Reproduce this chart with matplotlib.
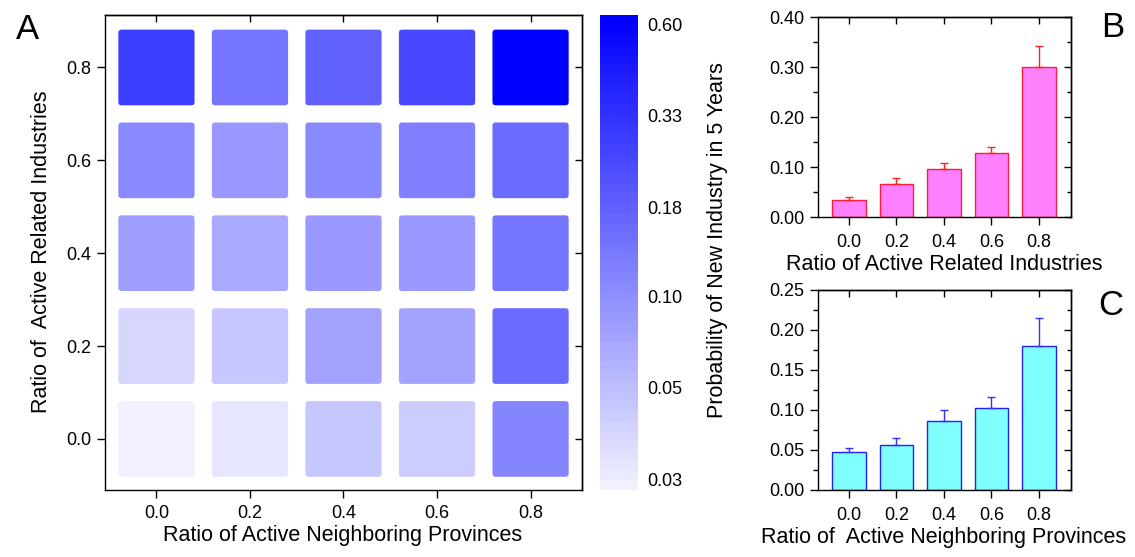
import numpy as np
import matplotlib
matplotlib.use('Agg')
import matplotlib.pyplot as plt
from matplotlib.colors import LinearSegmentedColormap, LogNorm
from matplotlib.patches import FancyBboxPatch
from matplotlib.ticker import MultipleLocator, NullLocator

plt.rcParams['font.family'] = ['Liberation Sans', 'DejaVu Sans']

# ---- data ----
ratios = [0.0, 0.2, 0.4, 0.6, 0.8]
ratio_labels = ['0.0', '0.2', '0.4', '0.6', '0.8']

# heatmap: rows = ratio of active related industries (0.0 -> 0.8)
#          cols = ratio of active neighboring provinces (0.0 -> 0.8)
heat_row_00 = [0.029, 0.034, 0.050, 0.047, 0.112]
heat_row_02 = [0.039, 0.050, 0.077, 0.077, 0.157]
heat_row_04 = [0.082, 0.070, 0.090, 0.090, 0.134]
heat_row_06 = [0.106, 0.090, 0.110, 0.121, 0.157]
heat_row_08 = [0.278, 0.134, 0.174, 0.250, 0.600]
heat = [heat_row_00, heat_row_02, heat_row_04, heat_row_06, heat_row_08]

cbar_ticks = [0.03, 0.055, 0.10, 0.18, 0.33, 0.60]
cbar_labels = ['0.03', '0.05', '0.10', '0.18', '0.33', '0.60']

# panel B: related industries
prob_related = [0.035, 0.066, 0.096, 0.128, 0.300]
err_related = [0.005, 0.013, 0.012, 0.013, 0.042]

# panel C: neighboring provinces
prob_neighbor = [0.048, 0.056, 0.086, 0.102, 0.180]
err_neighbor = [0.005, 0.0085, 0.0135, 0.014, 0.035]

W, H = 1135, 557
fig = plt.figure(figsize=(W / 100, H / 100), dpi=100)


def px_axes(x0, y0, x1, y1):
    # pixel box (top-left origin) -> figure axes
    return fig.add_axes([x0 / W, 1 - y1 / H, (x1 - x0) / W, (y1 - y0) / H])


def box_ticks(ax, xt, yt, xlabels, ylabels, ymin=None):
    ax.set_xticks(xt, xlabels)
    ax.set_yticks(yt, ylabels)
    ax.tick_params(axis='both', which='major', direction='out', length=6, width=1,
                   labelsize=13, pad=4)
    ax.tick_params(axis='both', which='minor', direction='out', length=3.5, width=1)
    for s in ax.spines.values():
        s.set_linewidth(1)
    top = ax.secondary_xaxis('top')
    top.set_xticks(xt)
    top.tick_params(axis='x', direction='in', length=5, width=1, labeltop=False)
    right = ax.secondary_yaxis('right')
    right.set_yticks(yt)
    right.tick_params(axis='y', which='major', direction='in', length=5, width=1, labelright=False)
    if ymin is not None:
        ax.yaxis.set_minor_locator(MultipleLocator(ymin))
        right.yaxis.set_minor_locator(MultipleLocator(ymin))
        right.tick_params(axis='y', which='minor', direction='in', length=3, width=1)
    for s in list(top.spines.values()) + list(right.spines.values()):
        s.set_linewidth(1)


# ---- panel A: heatmap ----
cmap = LinearSegmentedColormap.from_list('wb', ['#f0f0ff', '#0000ff'], N=48)
norm = LogNorm(vmin=0.028, vmax=0.64)

axA = px_axes(105, 15, 582, 490)
side = 0.163
for i, ry in enumerate(ratios):
    for j, rx in enumerate(ratios):
        axA.add_patch(FancyBboxPatch((rx - side / 2, ry - side / 2), side, side,
                                     boxstyle='round,pad=0,rounding_size=0.007',
                                     facecolor=cmap(norm(heat[i][j])), edgecolor='none'))
axA.set_xlim(-0.11, 0.91)
axA.set_ylim(-0.11, 0.913)
box_ticks(axA, ratios, ratios, ratio_labels, ratio_labels)
axA.tick_params(axis='x', pad=5)

cax = px_axes(600, 15, 638, 490)
cb = fig.colorbar(plt.cm.ScalarMappable(norm=norm, cmap=cmap), cax=cax)
cb.outline.set_visible(False)
cb.set_ticks(cbar_ticks)
cb.set_ticklabels(cbar_labels)
cax.yaxis.set_minor_locator(NullLocator())
cax.tick_params(length=0, labelsize=13, pad=7)

fig.text(343 / W, 1 - 535 / H, 'Ratio of Active Neighboring Provinces',
         ha='center', va='center', fontsize=15.5)
fig.text(42 / W, 1 - 252 / H, 'Ratio of  Active Related Industries',
         ha='center', va='center', rotation=90, fontsize=15.5)

# ---- panel B ----
bar_w = 0.14
axB = px_axes(818, 17, 1071, 217)
axB.bar(ratios, prob_related, width=bar_w, color='#ff80ff', edgecolor='#ff1a40', linewidth=1)
axB.errorbar(ratios, prob_related, yerr=[np.zeros(5), err_related], fmt='none',
             ecolor='#ff2020', elinewidth=1, capsize=3, capthick=1)
axB.set_xlim(-0.13, 0.935)
axB.set_ylim(0, 0.40)
box_ticks(axB, ratios, [0, 0.1, 0.2, 0.3, 0.4], ratio_labels,
          ['0.00', '0.10', '0.20', '0.30', '0.40'], ymin=0.05)
axB.tick_params(axis='x', pad=6)
fig.text(944 / W, 1 - 265 / H, 'Ratio of Active Related Industries',
         ha='center', va='center', fontsize=15.5)

# ---- panel C ----
axC = px_axes(818, 290, 1071, 490)
axC.bar(ratios, prob_neighbor, width=bar_w, color='#80ffff', edgecolor='#2020ff', linewidth=1)
axC.errorbar(ratios, prob_neighbor, yerr=[np.zeros(5), err_neighbor], fmt='none',
             ecolor='#3030ff', elinewidth=1, capsize=3, capthick=1)
axC.set_xlim(-0.13, 0.935)
axC.set_ylim(0, 0.25)
box_ticks(axC, ratios, [0, 0.05, 0.10, 0.15, 0.20, 0.25], ratio_labels,
          ['0.00', '0.05', '0.10', '0.15', '0.20', '0.25'], ymin=0.025)
axC.tick_params(axis='x', pad=6)
fig.text(944 / W, 1 - 538 / H, 'Ratio of  Active Neighboring Provinces',
         ha='center', va='center', fontsize=15.5)

fig.text(718 / W, 1 - 240 / H, 'Probability of New Industry in 5 Years',
         ha='center', va='center', rotation=90, fontsize=15.5)

# panel letters
fig.text(27 / W, 1 - 39 / H, 'A', ha='center', va='baseline', fontsize=25)
fig.text(1113 / W, 1 - 37 / H, 'B', ha='center', va='baseline', fontsize=25)
fig.text(1111 / W, 1 - 315 / H, 'C', ha='center', va='baseline', fontsize=25)

fig.savefig('out.png', dpi=100)
